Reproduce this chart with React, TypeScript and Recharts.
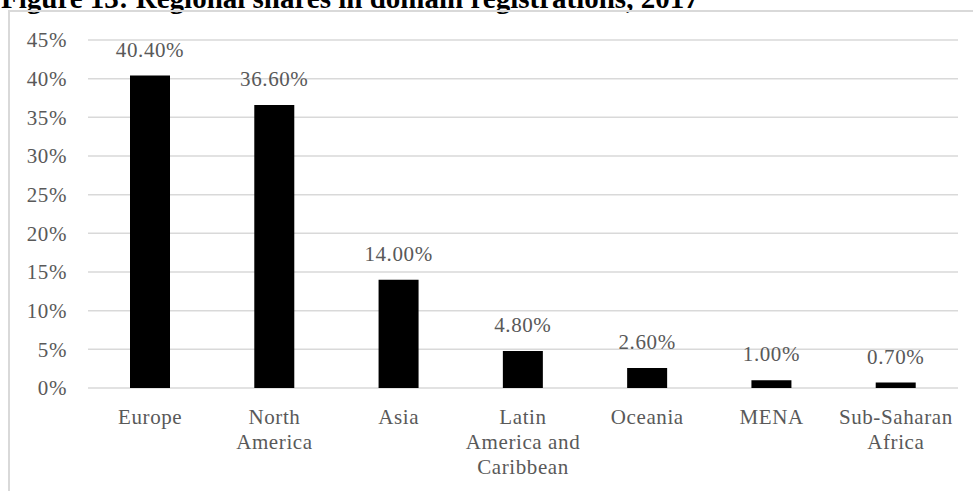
import React from "react";
import { BarChart, Bar, XAxis, YAxis, CartesianGrid, LabelList } from "recharts";

const regions = [
  "Europe",
  "North\nAmerica",
  "Asia",
  "Latin\nAmerica and\nCaribbean",
  "Oceania",
  "MENA",
  "Sub-Saharan\nAfrica",
];
const shares = [40.4, 36.6, 14.0, 4.8, 2.6, 1.0, 0.7];
const yTicks = [0, 5, 10, 15, 20, 25, 30, 35, 40, 45];

const data = regions.map((region, i) => ({ region, share: shares[i] }));

const FONT = "'Liberation Serif', 'Times New Roman', serif";
const GREY = "#595959";
const textStyle = { fill: GREY, fontFamily: FONT, fontSize: 21, letterSpacing: 0.6 };

function RegionTick(props: any) {
  const { x, y, payload } = props;
  const lines = String(payload.value).split("\n");
  return (
    <text x={x} y={y} textAnchor="middle" style={textStyle}>
      {lines.map((line, i) => (
        <tspan key={i} x={x} dy={i === 0 ? 28 : 25}>
          {line}
        </tspan>
      ))}
    </text>
  );
}

export default function App() {
  return (
    <div style={{ position: "absolute", left: 0, top: 0, width: 973, height: 491, overflow: "hidden", background: "#fff" }}>
      <div
        style={{
          position: "absolute",
          left: 1,
          top: -16,
          fontFamily: FONT,
          fontWeight: "bold",
          fontSize: 29,
          lineHeight: "29px",
          whiteSpace: "nowrap",
          color: "#000",
        }}
      >
        Figure 13: Regional shares in domain registrations, 2017
      </div>
      <div
        style={{
          position: "absolute",
          left: 8,
          top: 10,
          width: 990,
          height: 500,
          borderLeft: "2px solid #d9d9d9",
          borderTop: "2px solid #d9d9d9",
        }}
      />
      <div style={{ position: "absolute", left: 10, top: 12 }}>
        <BarChart width={963} height={479} data={data} margin={{ top: 28, right: 15, bottom: 43, left: 0 }}>
          <CartesianGrid vertical={false} stroke="#d9d9d9" strokeWidth={1.5} />
          <XAxis
            dataKey="region"
            axisLine={false}
            tickLine={false}
            interval={0}
            height={60}
            tick={<RegionTick />}
          />
          <YAxis
            width={78}
            domain={[0, 45]}
            ticks={yTicks}
            interval={0}
            axisLine={false}
            tickLine={false}
            tickMargin={15}
            tickFormatter={(v: number) => `${v}%`}
            tick={textStyle}
          />
          <Bar dataKey="share" fill="#000" barSize={40} isAnimationActive={false}>
            <LabelList
              dataKey="share"
              position="top"
              offset={19}
              formatter={(v: any) => `${Number(v).toFixed(2)}%`}
              style={textStyle}
            />
          </Bar>
        </BarChart>
      </div>
    </div>
  );
}
